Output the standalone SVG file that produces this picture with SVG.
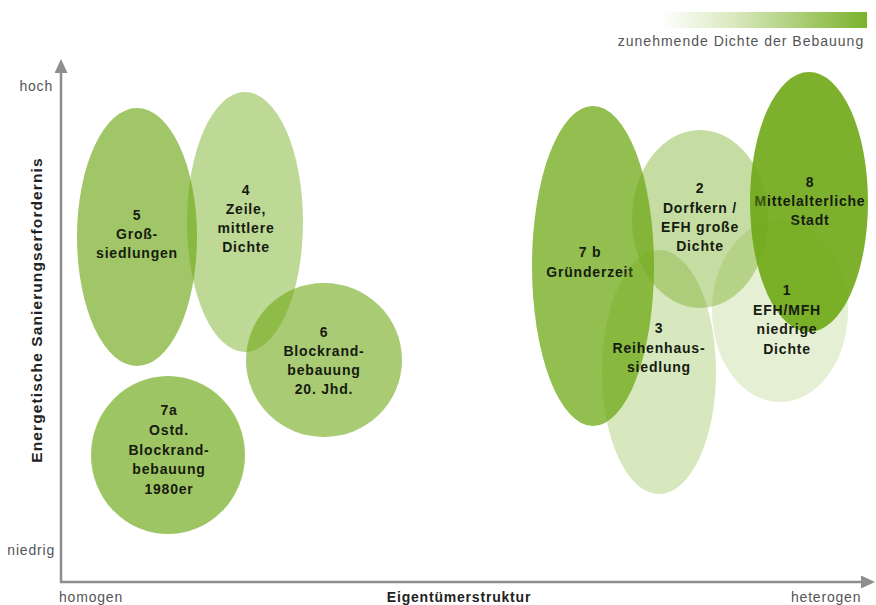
<svg xmlns="http://www.w3.org/2000/svg" width="876" height="605" viewBox="0 0 876 605">
  <defs>
    <linearGradient id="density" x1="0" y1="0" x2="1" y2="0">
      <stop offset="0" stop-color="#ffffff"/>
      <stop offset="0.35" stop-color="#dbe9c0"/>
      <stop offset="1" stop-color="#7ab22c"/>
    </linearGradient>
    <marker id="arrow" viewBox="0 0 14 13" refX="1" refY="6.5" markerWidth="14" markerHeight="13" markerUnits="userSpaceOnUse" orient="auto">
      <path d="M0,0 L14,6.5 L0,13 z" fill="#8e8e8e"/>
    </marker>
    <style>
      .zone { fill: #6fa816; }
      .lbl { font-family: "Liberation Sans", Arial, sans-serif; font-size: 14px; font-weight: bold; fill: #161c10; text-anchor: middle; letter-spacing: 0.8px; }
      .axis { stroke: #8e8e8e; stroke-width: 2.5; fill: none; }
      .tick { font-family: "Liberation Sans", Arial, sans-serif; font-size: 14px; fill: #555555; letter-spacing: 0.8px; }
      .title { font-family: "Liberation Sans", Arial, sans-serif; font-size: 14px; font-weight: bold; fill: #222222; letter-spacing: 0.8px; }
      .ytitle { font-size: 15.5px; letter-spacing: 1.1px; text-anchor: middle; }
      .legend-text { letter-spacing: 1px; text-anchor: middle; }
    </style>
  </defs>

  <rect width="876" height="605" fill="#ffffff"/>

  <!-- legend: density scale -->
  <g id="legend">
    <rect x="660" y="12" width="207" height="16" fill="url(#density)"/>
    <text class="tick legend-text" x="741" y="46">zunehmende Dichte der Bebauung</text>
  </g>

  <!-- axes -->
  <g id="axes">
    <line class="axis" x1="61" y1="583" x2="61" y2="72" marker-end="url(#arrow)"/>
    <line class="axis" x1="60" y1="582" x2="862" y2="582" marker-end="url(#arrow)"/>
    <text class="tick" x="53" y="91" text-anchor="end">hoch</text>
    <text class="tick" x="55" y="555" text-anchor="end">niedrig</text>
    <text class="tick" x="59" y="602">homogen</text>
    <text class="tick" x="791" y="602">heterogen</text>
    <text class="title" x="459" y="602" text-anchor="middle">Eigentümerstruktur</text>
    <text class="title ytitle" transform="translate(42,310) rotate(-90)" x="0" y="0">Energetische Sanierungserfordernis</text>
  </g>

  <!-- left cluster -->
  <g id="node-5">
    <ellipse class="zone" cx="137" cy="237" rx="60" ry="129" fill-opacity="0.65"/>
    <text class="lbl" x="137" y="220">5</text>
    <text class="lbl" x="137" y="239">Groß-</text>
    <text class="lbl" x="137" y="258">siedlungen</text>
  </g>
  <g id="node-4">
    <ellipse class="zone" cx="245" cy="222" rx="58" ry="130" fill-opacity="0.45"/>
    <text class="lbl" x="246" y="195">4</text>
    <text class="lbl" x="246" y="214">Zeile,</text>
    <text class="lbl" x="246" y="233">mittlere</text>
    <text class="lbl" x="246" y="252">Dichte</text>
  </g>
  <g id="node-6">
    <ellipse class="zone" cx="324" cy="360" rx="78" ry="77" fill-opacity="0.6"/>
    <text class="lbl" x="324" y="337">6</text>
    <text class="lbl" x="324" y="356">Blockrand-</text>
    <text class="lbl" x="324" y="375">bebauung</text>
    <text class="lbl" x="324" y="394">20. Jhd.</text>
  </g>
  <g id="node-7a">
    <ellipse class="zone" cx="168" cy="455" rx="77" ry="79" fill-opacity="0.67"/>
    <text class="lbl" x="169" y="415">7a</text>
    <text class="lbl" x="169" y="435">Ostd.</text>
    <text class="lbl" x="169" y="455">Blockrand-</text>
    <text class="lbl" x="169" y="474">bebauung</text>
    <text class="lbl" x="169" y="494">1980er</text>
  </g>

  <!-- right cluster -->
  <g id="node-7b">
    <ellipse class="zone" cx="593" cy="266" rx="61" ry="160" fill-opacity="0.75"/>
    <text class="lbl" x="590" y="257">7 b</text>
    <text class="lbl" x="590" y="277">Gründerzeit</text>
  </g>
  <g id="node-8">
    <ellipse class="zone" cx="809" cy="202" rx="59" ry="130" fill-opacity="0.9"/>
    <text class="lbl" x="810" y="187">8</text>
    <text class="lbl" x="810" y="206">Mittelalterliche</text>
    <text class="lbl" x="810" y="225">Stadt</text>
  </g>
  <g id="node-2">
    <ellipse class="zone" cx="700" cy="219" rx="68" ry="89" fill-opacity="0.4"/>
    <text class="lbl" x="700" y="193">2</text>
    <text class="lbl" x="700" y="213">Dorfkern /</text>
    <text class="lbl" x="700" y="232">EFH große</text>
    <text class="lbl" x="700" y="251">Dichte</text>
  </g>
  <g id="node-3">
    <ellipse class="zone" cx="659" cy="372" rx="57" ry="122" fill-opacity="0.28"/>
    <text class="lbl" x="659" y="333">3</text>
    <text class="lbl" x="659" y="353">Reihenhaus-</text>
    <text class="lbl" x="659" y="372">siedlung</text>
  </g>
  <g id="node-1">
    <ellipse class="zone" cx="780" cy="311" rx="68" ry="91" fill-opacity="0.19"/>
    <text class="lbl" x="787" y="295">1</text>
    <text class="lbl" x="787" y="315">EFH/MFH</text>
    <text class="lbl" x="787" y="334">niedrige</text>
    <text class="lbl" x="787" y="354">Dichte</text>
  </g>
</svg>
